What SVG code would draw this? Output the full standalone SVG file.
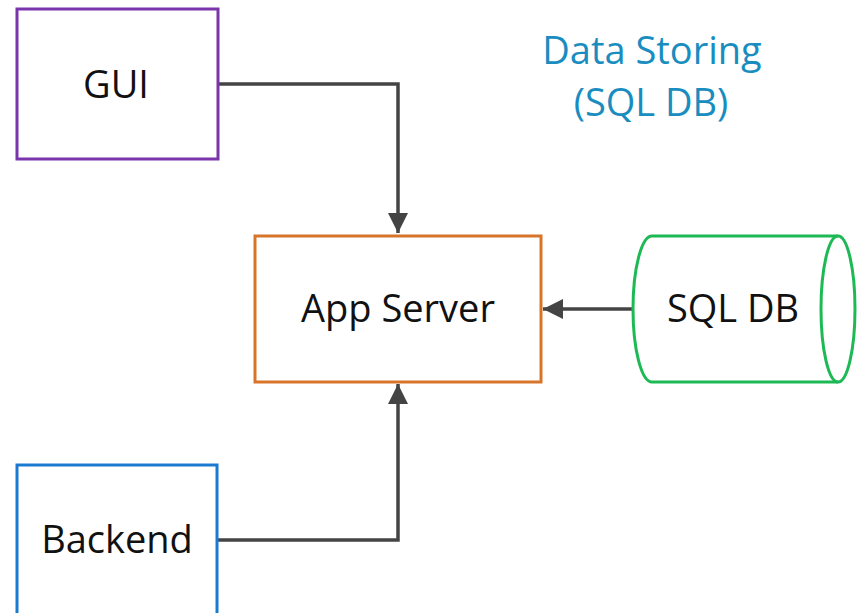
<svg xmlns="http://www.w3.org/2000/svg" width="860" height="613" viewBox="0 0 860 613">
<style>
.lbl{font-family:"Open Sans","Liberation Sans",sans-serif;font-size:38px;fill:#111;text-anchor:middle}
.title{font-family:"Open Sans","Liberation Sans",sans-serif;font-size:38px;fill:#1A8DC0;text-anchor:middle}
.box{fill:#fff;stroke-width:3}
.conn{fill:none;stroke:#444;stroke-width:3.5}
</style>
<defs>
<marker id="arrow" viewBox="0 0 10 10" refX="10" refY="5" markerWidth="20" markerHeight="20" markerUnits="userSpaceOnUse" orient="auto">
<path d="M0,0 L10,5 L0,10 Z" fill="#444"/>
</marker>
</defs>
<rect width="860" height="613" fill="#fff"/>
<g id="title">
<text class="title" x="652" y="64">Data Storing</text>
<text class="title" x="651" y="116">(SQL DB)</text>
</g>
<g id="connectors">
<path class="conn" d="M218,84 L398,84 L398,233" marker-end="url(#arrow)"/>
<path class="conn" d="M218,540 L398,540 L398,384" marker-end="url(#arrow)"/>
<path class="conn" d="M632,309 L543,309" marker-end="url(#arrow)"/>
</g>
<g id="gui">
<rect class="box" x="17" y="9" width="201" height="150" stroke="#7A35AA"/>
<text class="lbl" x="116" y="98">GUI</text>
</g>
<g id="appserver">
<rect class="box" x="255" y="236" width="286" height="146" stroke="#D8742A"/>
<text class="lbl" x="398" y="322">App Server</text>
</g>
<g id="sqldb">
<path d="M652,236 L838,236 A17,73 0 0,1 838,382 L652,382 A19,73 0 0,1 652,236 Z" fill="#fff" stroke="#1DB954" stroke-width="3"/>
<path d="M838,236 A17,73 0 0,0 838,382" fill="none" stroke="#1DB954" stroke-width="3"/>
<text class="lbl" x="733" y="322">SQL DB</text>
</g>
<g id="backend">
<rect class="box" x="17" y="465" width="200" height="160" stroke="#1A7AD0"/>
<text class="lbl" x="117" y="553">Backend</text>
</g>
</svg>
